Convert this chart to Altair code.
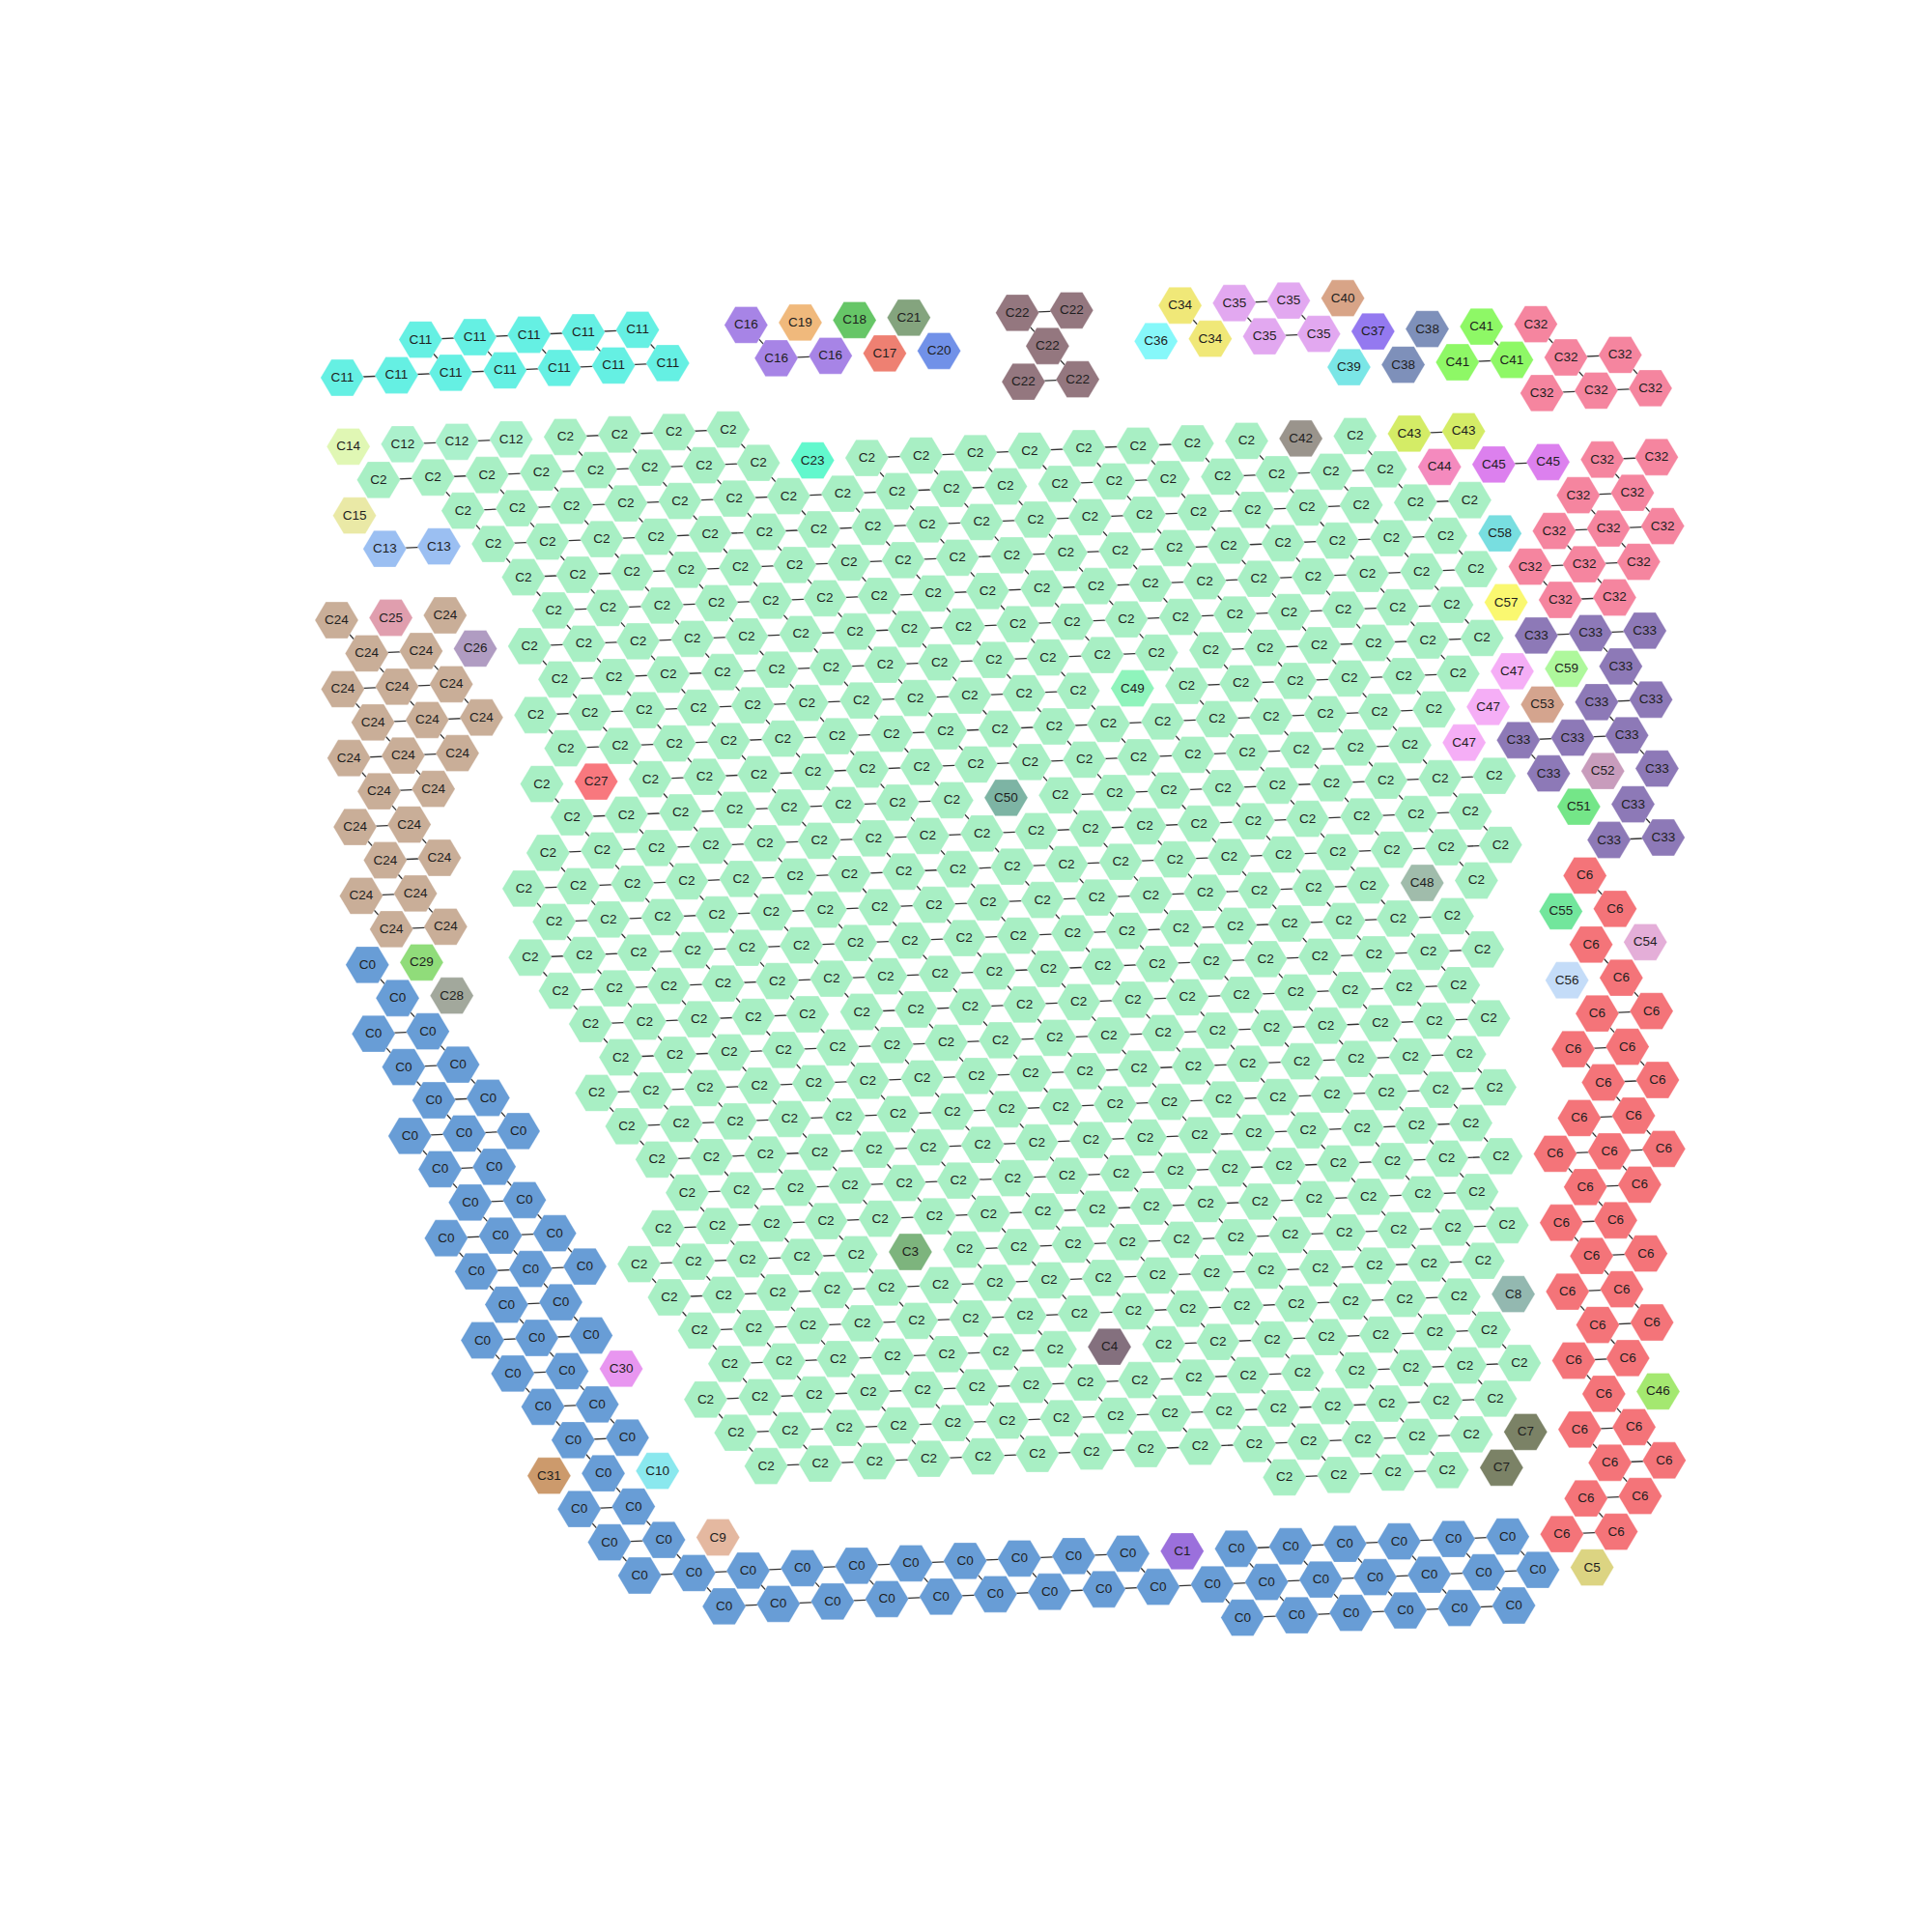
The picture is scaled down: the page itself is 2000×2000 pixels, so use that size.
import altair as alt
import pandas as pd

# ---------------------------------------------------------------------------
# Data.
# Nodes sit on a hexagonal lattice: each row is a list of runs
# (row, first_col, last_col, cluster); columns inside one row advance by 2.
# ---------------------------------------------------------------------------
SEGMENTS = [
    (-1, 3, 11, "C11"), (-1, 15, 15, "C16"), (-1, 17, 17, "C19"), (-1, 19, 19, "C18"),
    (-1, 21, 21, "C21"), (-1, 25, 27, "C22"), (-1, 31, 31, "C34"), (-1, 33, 35, "C35"),
    (-1, 37, 37, "C40"),
    (0, 0, 12, "C11"), (0, 16, 18, "C16"), (0, 20, 20, "C17"), (0, 22, 22, "C20"),
    (0, 26, 26, "C22"), (0, 30, 30, "C36"), (0, 32, 32, "C34"), (0, 34, 36, "C35"),
    (0, 38, 38, "C37"), (0, 40, 40, "C38"), (0, 42, 42, "C41"), (0, 44, 44, "C32"),
    (1, 25, 27, "C22"), (1, 37, 37, "C39"), (1, 39, 39, "C38"), (1, 41, 43, "C41"),
    (1, 45, 47, "C32"),
    (2, 0, 0, "C14"), (2, 2, 6, "C12"), (2, 8, 14, "C2"), (2, 44, 48, "C32"),
    (3, 1, 15, "C2"), (3, 17, 17, "C23"), (3, 19, 33, "C2"), (3, 35, 35, "C42"),
    (3, 37, 37, "C2"), (3, 39, 41, "C43"),
    (4, 0, 0, "C15"), (4, 4, 38, "C2"), (4, 40, 40, "C44"), (4, 42, 44, "C45"),
    (4, 46, 48, "C32"),
    (5, 1, 3, "C13"), (5, 5, 41, "C2"), (5, 45, 47, "C32"),
    (6, 6, 40, "C2"), (6, 42, 42, "C58"), (6, 44, 48, "C32"),
    (7, -1, -1, "C24"), (7, 1, 1, "C25"), (7, 3, 3, "C24"), (7, 7, 41, "C2"), (7, 43, 47, "C32"),
    (8, 0, 2, "C24"), (8, 4, 4, "C26"), (8, 6, 40, "C2"), (8, 42, 42, "C57"), (8, 44, 46, "C32"),
    (9, -1, 3, "C24"), (9, 7, 41, "C2"), (9, 43, 47, "C33"),
    (10, 0, 4, "C24"), (10, 6, 26, "C2"), (10, 28, 28, "C49"), (10, 30, 40, "C2"),
    (10, 42, 42, "C47"), (10, 44, 44, "C59"), (10, 46, 46, "C33"),
    (11, -1, 3, "C24"), (11, 7, 39, "C2"), (11, 41, 41, "C47"), (11, 43, 43, "C53"),
    (11, 45, 47, "C33"),
    (12, 0, 2, "C24"), (12, 6, 6, "C2"), (12, 8, 8, "C27"), (12, 10, 38, "C2"),
    (12, 40, 40, "C47"), (12, 42, 46, "C33"),
    (13, -1, 1, "C24"), (13, 7, 21, "C2"), (13, 23, 23, "C50"), (13, 25, 41, "C2"),
    (13, 43, 43, "C33"), (13, 45, 45, "C52"), (13, 47, 47, "C33"),
    (14, 0, 2, "C24"), (14, 6, 40, "C2"), (14, 44, 44, "C51"), (14, 46, 46, "C33"),
    (15, -1, 1, "C24"), (15, 5, 41, "C2"), (15, 45, 47, "C33"),
    (16, 0, 2, "C24"), (16, 6, 36, "C2"), (16, 38, 38, "C48"), (16, 40, 40, "C2"),
    (16, 44, 44, "C6"),
    (17, -1, -1, "C0"), (17, 1, 1, "C29"), (17, 5, 39, "C2"), (17, 43, 43, "C55"),
    (17, 45, 45, "C6"),
    (18, 0, 0, "C0"), (18, 2, 2, "C28"), (18, 6, 40, "C2"), (18, 44, 44, "C6"),
    (18, 46, 46, "C54"),
    (19, -1, 1, "C0"), (19, 7, 39, "C2"), (19, 43, 43, "C56"), (19, 45, 45, "C6"),
    (20, 0, 2, "C0"), (20, 8, 40, "C2"), (20, 44, 46, "C6"),
    (21, 1, 3, "C0"), (21, 7, 39, "C2"), (21, 43, 45, "C6"),
    (22, 0, 4, "C0"), (22, 8, 40, "C2"), (22, 44, 46, "C6"),
    (23, 1, 3, "C0"), (23, 9, 39, "C2"), (23, 43, 45, "C6"),
    (24, 2, 4, "C0"), (24, 10, 40, "C2"), (24, 42, 46, "C6"),
    (25, 1, 5, "C0"), (25, 9, 39, "C2"), (25, 43, 45, "C6"),
    (26, 2, 6, "C0"), (26, 8, 16, "C2"), (26, 18, 18, "C3"), (26, 20, 40, "C2"),
    (26, 42, 44, "C6"),
    (27, 3, 5, "C0"), (27, 9, 39, "C2"), (27, 43, 45, "C6"),
    (28, 2, 6, "C0"), (28, 10, 38, "C2"), (28, 40, 40, "C8"), (28, 42, 44, "C6"),
    (29, 3, 5, "C0"), (29, 7, 7, "C30"), (29, 11, 23, "C2"), (29, 25, 25, "C4"),
    (29, 27, 39, "C2"), (29, 43, 45, "C6"),
    (30, 4, 6, "C0"), (30, 10, 40, "C2"), (30, 42, 44, "C6"),
    (31, 5, 7, "C0"), (31, 11, 39, "C2"), (31, 43, 43, "C6"), (31, 45, 45, "C46"),
    (32, 4, 4, "C31"), (32, 6, 6, "C0"), (32, 8, 8, "C10"), (32, 12, 38, "C2"),
    (32, 40, 40, "C7"), (32, 42, 44, "C6"),
    (33, 5, 7, "C0"), (33, 31, 37, "C2"), (33, 39, 39, "C7"), (33, 43, 45, "C6"),
    (34, 6, 8, "C0"), (34, 10, 10, "C9"), (34, 42, 44, "C6"),
    (35, 7, 25, "C0"), (35, 27, 27, "C1"), (35, 29, 39, "C0"), (35, 41, 43, "C6"),
    (36, 10, 40, "C0"), (36, 42, 42, "C5"),
    (37, 29, 39, "C0"),
]

# horizontal links that are absent in the picture: (row, left_col)
MISSING_LINKS = [(3, 31), (4, 24), (4, 30), (5, 37), (9, 29), (19, 15), (30, 32)]

CLUSTERS = [f"C{i}" for i in range(60)]
COLORS = [
    "#689dd6", "#9b70dc", "#a8efc4", "#7db47d", "#84707e", "#dcd482", "#f47479", "#7b8266",
    "#93b8b0", "#e4b8a0", "#8ae8ee", "#65f0e3", "#abf1cc", "#9bbff2", "#e0f7b4", "#eae9a6",
    "#a784e6", "#ee8072", "#66c667", "#f0b97c", "#7191e8", "#84a47e", "#94777f", "#62f8cd",
    "#c9ae98", "#e09eae", "#b09cc2", "#f8787e", "#a2a89c", "#90dc7a", "#e896f0", "#cc9a6c",
    "#f5859f", "#8d79b7", "#f0e878", "#e2a8f0", "#86f8fa", "#9479f0", "#7e90ba", "#7ae6e6",
    "#d8a487", "#8ef866", "#9a948c", "#d4ec66", "#f48abe", "#dc80ee", "#a4e870", "#f5aef6",
    "#a0bcab", "#8ff4bc", "#7db4a4", "#74e688", "#c89cbc", "#d4a48e", "#e4aed8", "#72e69c",
    "#c4dcf8", "#faf870", "#78dee0", "#aef89c",
]

# lattice geometry on the 2000 px canvas (origin = first node of row 0)
ORIGIN = (354.3, 391.0)
COL_STEP = (28.08, -1.26)
ROW_STEP = (3.18, 35.68)

HEX = "M-1,0L-0.5,-0.84L0.5,-0.84L1,0L0.5,0.84L-0.5,0.84Z"

# ---------------------------------------------------------------------------
cells = []
for r, c0, c1, lab in SEGMENTS:
    for c in range(c0, c1 + 1, 2):
        cells.append((r, c, lab))

nodes = pd.DataFrame(cells, columns=["row", "col", "cluster"])
nodes["x"] = ORIGIN[0] + nodes["col"] * COL_STEP[0] + nodes["row"] * ROW_STEP[0]
nodes["y"] = ORIGIN[1] + nodes["col"] * COL_STEP[1] + nodes["row"] * ROW_STEP[1]

pos = {(r, c): (x, y) for r, c, x, y in zip(nodes.row, nodes.col, nodes.x, nodes.y)}
lab_of = {(r, c): l for r, c, l in cells}
missing = set(MISSING_LINKS)
edge_rows = []
for (r, c), lab in lab_of.items():
    for dr, dc in ((0, 2), (1, 1)):
        if dr == 0 and (r, c) in missing:
            continue
        nb = (r + dr, c + dc)
        if lab_of.get(nb) == lab:
            x1, y1 = pos[(r, c)]
            x2, y2 = pos[nb]
            edge_rows.append({"x": x1, "y": y1, "x2": x2, "y2": y2})
edges = pd.DataFrame(edge_rows)

XS = alt.Scale(domain=[0, 2000], nice=False, zero=False)
YS = alt.Scale(domain=[0, 2000], nice=False, zero=False, reverse=True)

edge_layer = alt.Chart(edges).mark_rule(color="#333333", strokeWidth=1.3).encode(
    x=alt.X("x:Q", scale=XS, axis=None),
    y=alt.Y("y:Q", scale=YS, axis=None),
    x2="x2:Q",
    y2="y2:Q",
)

node_layer = alt.Chart(nodes).mark_point(
    shape=HEX, size=2025, filled=True, opacity=1, stroke="white", strokeWidth=0.6, strokeOpacity=0.5
).encode(
    x=alt.X("x:Q", scale=XS, axis=None),
    y=alt.Y("y:Q", scale=YS, axis=None),
    fill=alt.Fill("cluster:N", scale=alt.Scale(domain=CLUSTERS, range=COLORS), legend=None),
)

text_layer = alt.Chart(nodes).mark_text(
    font="Liberation Sans", fontSize=13.5, color="#1e1e1e", align="center", baseline="middle"
).encode(
    x=alt.X("x:Q", scale=XS, axis=None),
    y=alt.Y("y:Q", scale=YS, axis=None),
    text="cluster:N",
)

chart = alt.layer(edge_layer, node_layer, text_layer).properties(
    width=2000, height=2000, padding=0, autosize=alt.AutoSizeParams(type="none")
).configure_view(stroke=None)

chart.save("out.html", embed_options={"renderer": "svg", "actions": False})
